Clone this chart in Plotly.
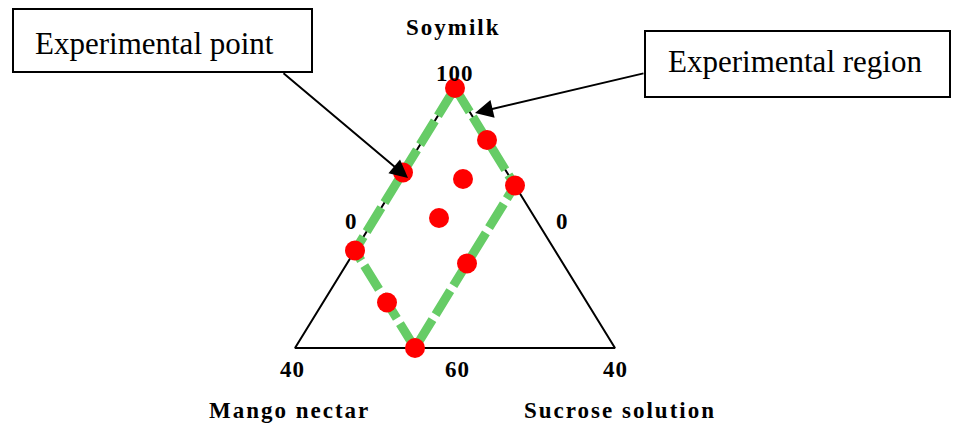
import plotly.graph_objects as go

# Mixture compositions (%) of the design points
soymilk = [100, 92, 85, 87, 75, 67, 60, 73, 80, 86]
mango_nectar = [0, 0, 0, 13, 25, 25, 25, 12, 12, 6]
sucrose_solution = [0, 8, 15, 0, 0, 8, 15, 15, 8, 8]

# Corners of the experimental region (closed)
region_soymilk = [100, 85, 60, 75, 100]
region_mango = [0, 0, 25, 25, 0]
region_sucrose = [0, 15, 15, 0, 0]

# Simplex frame: soymilk 60-100, mango nectar 0-40, sucrose solution 0-40
frame_soymilk = [100, 60, 60, 100]
frame_mango = [0, 40, 0, 0]
frame_sucrose = [0, 0, 40, 0]

# Tick labels drawn around the simplex
tick_top = "100"
tick_sides = ["0", "0"]
tick_bottom = ["40", "60", "40"]

SOY_MIN = 60
W, H = 962, 426


def project(s, m, c):
    """Map a (soymilk, mango, sucrose) composition onto the plane:
    vertical = soymilk, horizontal = sucrose + (soymilk - min)/2."""
    xs = [ci + (si - SOY_MIN) / 2 for si, ci in zip(s, c)]
    return xs, list(s)


def paper(px, py):
    return px / W, 1 - py / H


fx, fy = project(frame_soymilk, frame_mango, frame_sucrose)
rx, ry = project(region_soymilk, region_mango, region_sucrose)
px_, py_ = project(soymilk, mango_nectar, sucrose_solution)

fig = go.Figure()

fig.add_trace(go.Scatter(
    x=fx, y=fy, mode="lines",
    line=dict(color="black", width=2),
    hoverinfo="skip", showlegend=False,
))

fig.add_trace(go.Scatter(
    x=rx, y=ry, mode="lines",
    line=dict(color="#66CC66", width=9, dash="28px,6px"),
    hoverinfo="skip", showlegend=False,
))

fig.add_trace(go.Scatter(
    x=px_, y=py_, mode="markers",
    marker=dict(color="#FF0000", size=20, line=dict(width=0)),
    customdata=list(zip(soymilk, mango_nectar, sucrose_solution)),
    hovertemplate="Soymilk %{customdata[0]}%<br>Mango nectar %{customdata[1]}%"
                  "<br>Sucrose solution %{customdata[2]}%<extra></extra>",
    showlegend=False,
))

serif = "Liberation Serif, Times New Roman, serif"
bold = dict(family=serif, size=23, color="black", weight="bold")
plain = dict(family=serif, size=31, color="black")

annotations = []


def spaced(text, px=2):
    return f'<span style="letter-spacing:{px}px">{text}</span>'


def label(text, px, py, font, xanchor="center"):
    x, y = paper(px, py)
    annotations.append(dict(
        text=text, x=x, y=y, xref="paper", yref="paper",
        xanchor=xanchor, yanchor="middle", showarrow=False, font=font,
    ))


# Axis names
label(spaced("Soymilk"), 453, 27, bold)
label(spaced("Mango nectar"), 289, 410, bold)
label(spaced("Sucrose solution"), 620, 410, bold)

# Tick labels
label(spaced(tick_top, 1), 455, 73, bold)
label(tick_sides[0], 351, 221, bold)
label(tick_sides[1], 562, 221, bold)
label(spaced(tick_bottom[0], 1), 292, 369, bold)
label(spaced(tick_bottom[1], 1), 457, 369, bold)
label(spaced(tick_bottom[2], 1), 615, 369, bold)

# Callout texts
label("Experimental point", 33, 43, plain, xanchor="left")
label("Experimental region", 666, 62, plain, xanchor="left")

# Callout boxes
shapes = []
for x0, y0, x1, y1 in [(13, 9, 312, 72), (645, 31, 950, 97)]:
    a0, b0 = paper(x0, y0)
    a1, b1 = paper(x1, y1)
    shapes.append(dict(
        type="rect", xref="paper", yref="paper",
        x0=a0, y0=b1, x1=a1, y1=b0,
        line=dict(color="black", width=2), fillcolor="rgba(0,0,0,0)",
        layer="below",
    ))

# Arrows: tip on the chart, tail at the box edge (pixel offsets)
arrow_style = dict(showarrow=True, arrowhead=2, arrowsize=1.8, arrowwidth=2,
                   arrowcolor="black", text="", axref="pixel", ayref="pixel",
                   xref="paper", yref="paper", standoff=0)
tip1 = paper(408, 178)
annotations.append(dict(x=tip1[0], y=tip1[1], ax=282 - 408, ay=72 - 178,
                        **arrow_style))
tip2 = paper(475, 113)
annotations.append(dict(x=tip2[0], y=tip2[1], ax=645 - 475, ay=73 - 113,
                        **arrow_style))

# Axis ranges chosen so the frame sits at its place in the page
x_scale, y_scale = 8.0, 6.5
x_left_px, base_px = 295, 348
fig.update_layout(
    width=W, height=H,
    margin=dict(l=0, r=0, t=0, b=0, pad=0),
    paper_bgcolor="white", plot_bgcolor="white",
    xaxis=dict(range=[-x_left_px / x_scale, (W - x_left_px) / x_scale],
               visible=False, fixedrange=True),
    yaxis=dict(range=[SOY_MIN - (H - base_px) / y_scale, SOY_MIN + base_px / y_scale],
               visible=False, fixedrange=True),
    annotations=annotations,
    shapes=shapes,
)

fig.write_html("out.html")
